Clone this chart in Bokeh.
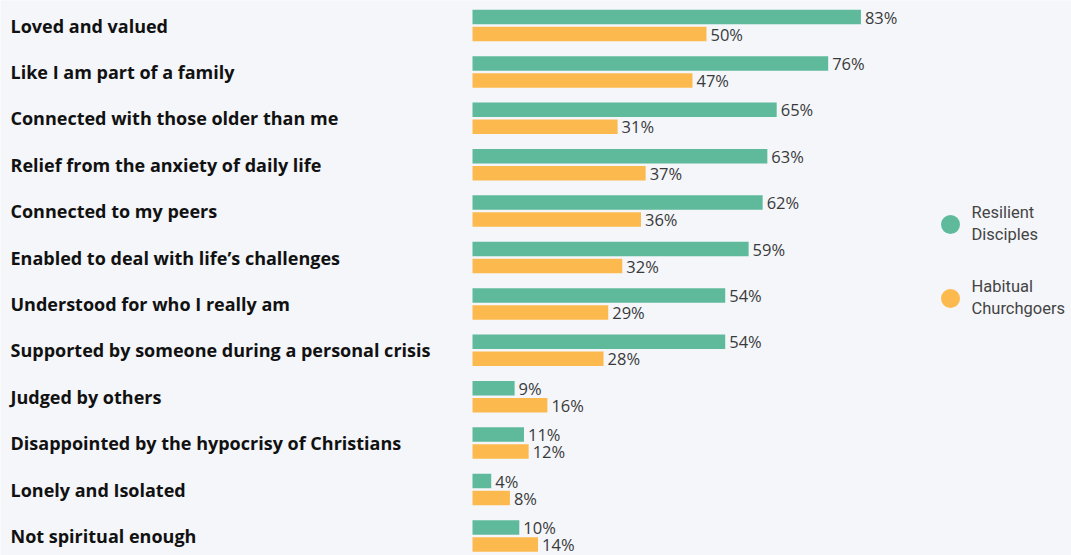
from bokeh.plotting import figure
from bokeh.models import Range1d, ColumnDataSource, LabelSet, Label
from bokeh.core.properties import value
from bokeh.embed import file_html
from bokeh.resources import INLINE

categories = [
    "Loved and valued",
    "Like I am part of a family",
    "Connected with those older than me",
    "Relief from the anxiety of daily life",
    "Connected to my peers",
    "Enabled to deal with life\u2019s challenges",
    "Understood for who I really am",
    "Supported by someone during a personal crisis",
    "Judged by others",
    "Disappointed by the hypocrisy of Christians",
    "Lonely and Isolated",
    "Not spiritual enough",
]
resilient = [83, 76, 65, 63, 62, 59, 54, 54, 9, 11, 4, 10]
habitual = [50, 47, 31, 37, 36, 32, 29, 28, 16, 12, 8, 14]
series_names = ["Resilient\nDisciples", "Habitual\nChurchgoers"]

GREEN = "#5fba9c"
ORANGE = "#fcba4e"
W, H = 1071, 555
PX_PER_PCT = 4.68
X0 = 472
ROW = 46.4
ROW0 = 25.0

p = figure(width=W, height=H, output_backend="svg", toolbar_location=None,
           x_range=Range1d(-X0 / PX_PER_PCT, (W - X0) / PX_PER_PCT),
           y_range=Range1d((H - ROW0) / ROW, -ROW0 / ROW),
           min_border=0, min_border_left=0, min_border_right=0,
           min_border_top=0, min_border_bottom=0)
p.xaxis.visible = False
p.yaxis.visible = False
p.grid.visible = False
p.outline_line_color = None
p.background_fill_color = "#f4f6fa"
p.border_fill_color = "#f4f6fa"

idx = list(range(len(categories)))
off = 8.5 / ROW
bh = 14.5 / ROW
src = ColumnDataSource(dict(
    y=idx,
    yg=[i - off for i in idx],
    yo=[i + off for i in idx],
    res=resilient,
    hab=habitual,
    rl=[f"{v}%" for v in resilient],
    hl=[f"{v}%" for v in habitual],
    cat=categories,
))

p.hbar(y="yg", left=0, right="res", height=bh, source=src, fill_color=GREEN, line_color=None)
p.hbar(y="yo", left=0, right="hab", height=bh, source=src, fill_color=ORANGE, line_color=None)

p.text(x="res", y="yg", text="rl", source=src, x_offset=4, text_baseline="middle",
       text_font=value("Open Sans"), text_font_size="16.5px", text_color="#3a3a3a")
p.text(x="hab", y="yo", text="hl", source=src, x_offset=4, text_baseline="middle",
       text_font=value("Open Sans"), text_font_size="16.5px", text_color="#3a3a3a")

labels = LabelSet(x=10, y="y", x_units="screen", text="cat", source=src,
                  text_baseline="middle", text_font=value("Open Sans"),
                  text_font_size=value("18px"), text_font_style=value("bold"),
                  text_color=value("#111111"))
p.add_layout(labels)

# legend
leg_x = (950 - X0) / PX_PER_PCT
leg_y = [(224 - ROW0) / ROW, (298 - ROW0) / ROW]
p.scatter(x=[leg_x, leg_x], y=leg_y, size=19, marker="circle",
          fill_color=[GREEN, ORANGE], line_color=None)
for name, yy in zip(series_names, leg_y):
    p.add_layout(Label(x=971, y=H - (yy * ROW + ROW0) + 1, x_units="screen", y_units="screen",
                       text=name, text_baseline="middle", text_font="Roboto",
                       text_font_size="16.5px", text_color="#444444"))

open("out.html", "w").write(file_html(p, INLINE))
